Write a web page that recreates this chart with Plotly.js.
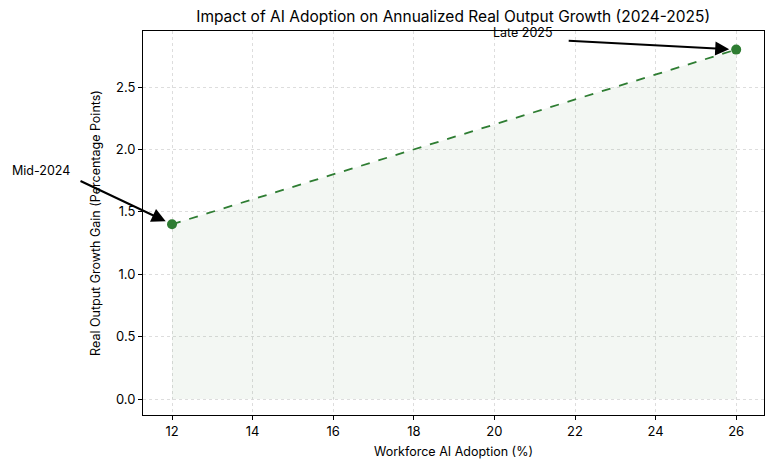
<!DOCTYPE html>
<html>
<head>
<meta charset="utf-8">
<script src="https://cdn.plot.ly/plotly-3.0.1.min.js"></script>
<style>
  html, body { margin: 0; padding: 0; background: #fff; }
  #chart { width: 772px; height: 471px; }
</style>
</head>
<body>
<div id="chart"></div>
<script>
var adoption = [12, 26];
var growthGain = [1.4, 2.8];
var pointLabels = ['Mid-2024', 'Late 2025'];

var green = '#2e7d32';

var trace = {
  x: adoption,
  y: growthGain,
  type: 'scatter',
  mode: 'lines+markers',
  fill: 'tozeroy',
  fillcolor: 'rgba(46,125,50,0.06)',
  line: {color: green, width: 1.8, dash: 'dash'},
  marker: {color: green, size: 10},
  showlegend: false,
  hoverinfo: 'x+y'
};

var annotations = [
  // arrows
  {x: adoption[0], y: growthGain[0], xref: 'x', yref: 'y', text: '', showarrow: true,
   ax: -93, ay: -44, arrowhead: 2, arrowsize: 1.4, arrowwidth: 2, arrowcolor: '#000', standoff: 7},
  {x: adoption[1], y: growthGain[1], xref: 'x', yref: 'y', text: '', showarrow: true,
   ax: -169, ay: -9, arrowhead: 2, arrowsize: 1.4, arrowwidth: 2, arrowcolor: '#000', standoff: 7},
  // labels
  {x: adoption[0], y: growthGain[0], xref: 'x', yref: 'y', text: pointLabels[0], showarrow: false,
   xshift: -131, yshift: 54, font: {size: 12.5, color: '#000'}},
  {x: adoption[1], y: growthGain[1], xref: 'x', yref: 'y', text: pointLabels[1], showarrow: false,
   xshift: -213, yshift: 17, font: {size: 12.5, color: '#000'}}
];

var layout = {
  width: 772,
  height: 471,
  margin: {l: 143, r: 8, t: 31, b: 56},
  paper_bgcolor: '#fff',
  plot_bgcolor: '#fff',
  font: {family: 'Inter, "Open Sans", sans-serif', color: '#000'},
  title: {
    text: 'Impact of AI Adoption on Annualized Real Output Growth (2024-2025)',
    font: {size: 15.5, color: '#000'},
    x: 0.587, xanchor: 'center', y: 0.965, yanchor: 'middle'
  },
  xaxis: {
    range: [11.28, 26.69],
    tickvals: [12, 14, 16, 18, 20, 22, 24, 26],
    ticks: 'outside', ticklen: 4, tickcolor: '#000',
    showline: true, linecolor: '#000', linewidth: 1, mirror: true,
    showgrid: true, gridcolor: '#d4d4d4', griddash: 'dot', gridwidth: 0.8,
    zeroline: false,
    tickfont: {size: 13},
    title: {text: 'Workforce AI Adoption (%)', font: {size: 12.5}, standoff: 9}
  },
  yaxis: {
    range: [-0.128, 2.949],
    tickvals: [0, 0.5, 1, 1.5, 2, 2.5],
    ticktext: ['0.0', '0.5', '1.0', '1.5', '2.0', '2.5'],
    ticks: 'outside', ticklen: 4, tickcolor: '#000',
    showline: true, linecolor: '#000', linewidth: 1, mirror: true,
    showgrid: true, gridcolor: '#d4d4d4', griddash: 'dot', gridwidth: 0.8,
    zeroline: false,
    tickfont: {size: 13},
    title: {text: 'Real Output Growth Gain (Percentage Points)', font: {size: 12.5}, standoff: 12}
  },
  annotations: annotations
};

Plotly.newPlot('chart', [trace], layout, {displayModeBar: false, staticPlot: true});
</script>
</body>
</html>
